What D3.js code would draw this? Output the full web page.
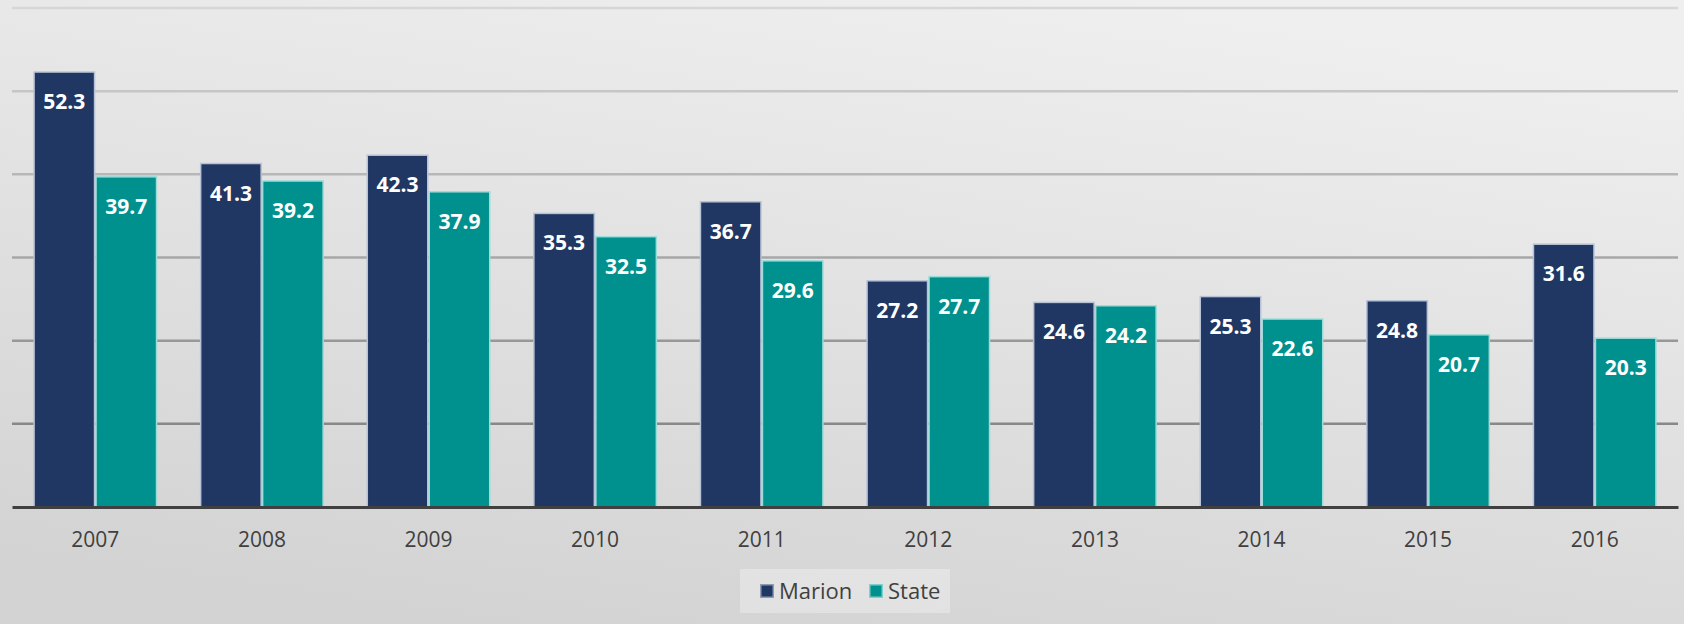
<!DOCTYPE html>
<html>
<head>
<meta charset="utf-8">
<script src="https://cdn.jsdelivr.net/npm/d3@7"></script>
<style>
  html, body { margin: 0; padding: 0; }
  body { width: 1684px; height: 624px; overflow: hidden; }
  svg { display: block; }
</style>
</head>
<body>
<div id="chart"></div>
<script>
// data
const years = ["2007", "2008", "2009", "2010", "2011", "2012", "2013", "2014", "2015", "2016"];
const marion = [52.3, 41.3, 42.3, 35.3, 36.7, 27.2, 24.6, 25.3, 24.8, 31.6];
const state = [39.7, 39.2, 37.9, 32.5, 29.6, 27.7, 24.2, 22.6, 20.7, 20.3];
const seriesNames = ["Marion", "State"];
const seriesColors = ["#1f3762", "#00918e"];
const yTicks = [0, 10, 20, 30, 40, 50, 60];

const width = 1684, height = 624;
const plot = { left: 12, right: 1678, top: 8, bottom: 507 };

const svg = d3.select("#chart").append("svg")
    .attr("width", width)
    .attr("height", height);

// background gradient
const defs = svg.append("defs");
const bg = defs.append("linearGradient")
    .attr("id", "bg")
    .attr("x1", "0.7").attr("y1", "0")
    .attr("x2", "0.3").attr("y2", "1");
bg.append("stop").attr("offset", "0%").attr("stop-color", "#efefef");
bg.append("stop").attr("offset", "100%").attr("stop-color", "#d3d3d3");

svg.append("rect")
    .attr("width", width)
    .attr("height", height)
    .attr("fill", "url(#bg)");

const x0 = d3.scaleBand()
    .domain(years)
    .range([plot.left, plot.right])
    .paddingInner(0.256)
    .paddingOuter(0.128);

const x1 = d3.scaleBand()
    .domain(seriesNames)
    .range([0, x0.bandwidth()])
    .padding(0);

const y = d3.scaleLinear()
    .domain([0, 60])
    .range([plot.bottom, plot.top]);

// gridlines get darker toward the bottom
const gridColor = d3.scaleLinear()
    .domain([10, 60])
    .range(["#888888", "#d6d6d6"]);

svg.append("g")
    .attr("class", "grid")
    .selectAll("line")
    .data(yTicks.filter(d => d > 0))
    .join("line")
    .attr("x1", plot.left)
    .attr("x2", plot.right)
    .attr("y1", d => y(d))
    .attr("y2", d => y(d))
    .attr("stroke", d => gridColor(d))
    .attr("stroke-width", 2.5);

const rows = years.map((yr, i) => ({ year: yr, values: [marion[i], state[i]] }));

const groups = svg.append("g")
    .selectAll("g")
    .data(rows)
    .join("g")
    .attr("transform", d => `translate(${x0(d.year)},0)`);

groups.selectAll("rect")
    .data(d => d.values.map((v, j) => ({ name: seriesNames[j], value: v, j: j })))
    .join("rect")
    .attr("x", d => x1(d.name) + 0.75)
    .attr("width", x1.bandwidth() - 1.5)
    .attr("y", d => y(d.value))
    .attr("height", d => y(0) - y(d.value))
    .attr("fill", d => seriesColors[d.j])
    .attr("stroke", d => d.j === 0 ? "#b8c2d6" : "#9edcd9")
    .attr("stroke-width", 1.5);

groups.selectAll("text")
    .data(d => d.values.map((v, j) => ({ name: seriesNames[j], value: v })))
    .join("text")
    .attr("x", d => x1(d.name) + x1.bandwidth() / 2)
    .attr("y", d => y(d.value) + 37)
    .attr("text-anchor", "middle")
    .style("font-family", "'Open Sans', sans-serif")
    .style("font-weight", "bold")
    .style("font-size", "21px")
    .style("fill", "#ffffff")
    .text(d => d.value.toFixed(1));

// x axis
const xAxis = d3.axisBottom(x0).tickSize(0).tickPadding(0);
const gx = svg.append("g")
    .attr("transform", `translate(0,${plot.bottom})`)
    .call(xAxis);
gx.select(".domain")
    .attr("stroke", "#404040")
    .attr("stroke-width", 3);
gx.selectAll("text")
    .attr("dy", null)
    .attr("y", 40)
    .style("font-family", "'Open Sans', sans-serif")
    .style("font-size", "21px")
    .style("fill", "#404040");

// legend
const legend = svg.append("g").attr("transform", "translate(740,569)");
legend.append("rect")
    .attr("width", 210)
    .attr("height", 44)
    .attr("fill", "#ffffff")
    .attr("fill-opacity", 0.3);

const legendX = [20, 129];
const items = legend.selectAll("g.item")
    .data(seriesNames)
    .join("g")
    .attr("class", "item")
    .attr("transform", (d, i) => `translate(${legendX[i]},0)`);
items.append("rect")
    .attr("x", 0.75)
    .attr("y", 15.75)
    .attr("width", 12.5)
    .attr("height", 12.5)
    .attr("fill", (d, i) => seriesColors[i])
    .attr("stroke", (d, i) => i === 0 ? "#8f9ab3" : "#7fd0cd")
    .attr("stroke-width", 1.5);
items.append("text")
    .attr("x", 19)
    .attr("y", 29.5)
    .style("font-family", "'Open Sans', sans-serif")
    .style("font-size", "22px")
    .style("fill", "#404040")
    .text(d => d);
</script>
</body>
</html>
